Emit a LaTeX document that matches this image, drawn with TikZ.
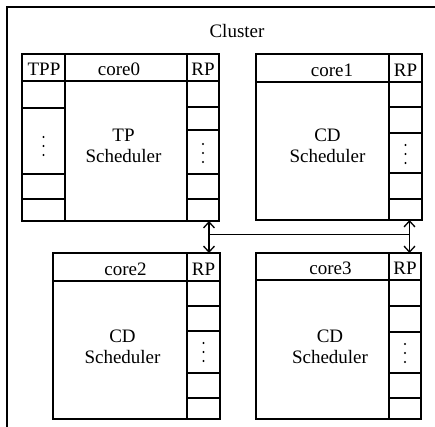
\documentclass[tikz,border=0pt]{standalone}
\usepackage{fontspec}
\setmainfont{Liberation Serif}
\usetikzlibrary{arrows.meta}
\begin{document}
\begin{tikzpicture}[x=1pt,y=-1pt,line width=1.3pt,
  cell/.style={draw,inner sep=0pt,outer sep=0pt,anchor=north west},
  lbl/.style={inner sep=0pt,anchor=base,font=\fontsize{19}{21}\selectfont},
  body/.style={inner sep=0pt,align=center,font=\fontsize{19}{21}\selectfont},
  link/.style={{Straight Barb[length=6pt,width=11pt]}-{Straight Barb[length=6pt,width=11pt]}},
  % three stacked dots for the elided queue slots
  pics/slotdots/.style={code={
    \fill (0,-9) circle (1.15pt); \fill (0,0) circle (1.15pt); \fill (0,9) circle (1.15pt);}}]
\useasboundingbox (0,0) rectangle (435,426);
\clip (0,0) rectangle (435,426);

% cluster frame (runs past the right and bottom edges)
\node[cell,minimum width=470pt,minimum height=470pt] (cluster) at (7,7) {};
\node[lbl] (clusterlbl) at (237,37) {Cluster};

% ---------- core0 : TP scheduler ----------
\node[cell,minimum width=197pt,minimum height=167pt] (core0) at (22,54) {};
\node[cell,minimum width=197pt,minimum height=27pt] (core0h) at (22,54) {};
\node[cell,minimum width=43pt,minimum height=167pt] (tpp0) at (22,54) {};
\node[cell,minimum width=32pt,minimum height=167pt] (rp0) at (187,54) {};
\foreach \y in {108,174,199} \draw (tpp0.west |- 0,\y) -- (tpp0.east |- 0,\y);
\foreach \y in {107,130,174,199} \draw (rp0.west |- 0,\y) -- (rp0.east |- 0,\y);
\node[lbl] (tpp0l) at (44,75.5) {TPP};
\node[lbl] (core0l) at (119,75.5) {core0};
\node[lbl] (rp0l) at (203,75.5) {RP};
\node[body] (sched0) at (123.5,146) {TP\\Scheduler};
\pic at (43.5,146) {slotdots};
\pic at (203,153) {slotdots};

% ---------- core1 : CD scheduler ----------
\node[cell,minimum width=166pt,minimum height=166pt] (core1) at (256,54) {};
\node[cell,minimum width=166pt,minimum height=28pt] (core1h) at (256,54) {};
\node[cell,minimum width=33pt,minimum height=166pt] (rp1) at (389,54) {};
\foreach \y in {107,133,173,199} \draw (rp1.west |- 0,\y) -- (rp1.east |- 0,\y);
\node[lbl] (core1l) at (332,76) {core1};
\node[lbl] (rp1l) at (405.5,76) {RP};
\node[body] (sched1) at (327.5,146) {CD\\Scheduler};
\pic at (405.5,154) {slotdots};

% ---------- core2 : CD scheduler ----------
\node[cell,minimum width=167pt,minimum height=166pt] (core2) at (53,253) {};
\node[cell,minimum width=167pt,minimum height=28pt] (core2h) at (53,253) {};
\node[cell,minimum width=33pt,minimum height=166pt] (rp2) at (187,253) {};
\foreach \y in {306,331,373,398} \draw (rp2.west |- 0,\y) -- (rp2.east |- 0,\y);
\node[lbl] (core2l) at (125.5,275) {core2};
\node[lbl] (rp2l) at (203.5,275) {RP};
\node[body] (sched2) at (122.5,347) {CD\\Scheduler};
\pic at (203.5,352) {slotdots};

% ---------- core3 : CD scheduler ----------
\node[cell,minimum width=165pt,minimum height=166pt] (core3) at (256,253) {};
\node[cell,minimum width=165pt,minimum height=27pt] (core3h) at (256,253) {};
\node[cell,minimum width=32pt,minimum height=166pt] (rp3) at (389,253) {};
\foreach \y in {306,332,373,398} \draw (rp3.west |- 0,\y) -- (rp3.east |- 0,\y);
\node[lbl] (core3l) at (330.5,274) {core3};
\node[lbl] (rp3l) at (405,274) {RP};
\node[body] (sched3) at (330,347) {CD\\Scheduler};
\pic at (405,353) {slotdots};

% ---------- RP interconnect ----------
\coordinate (up0) at ([xshift=6pt]rp0.south);
\coordinate (up1) at ([xshift=4pt]rp1.south);
\draw[link] (up0) -- (up0 |- rp2.north);
\draw[link] (up1) -- (up1 |- rp3.north);
\coordinate (bus0) at ([yshift=-13.5pt]up0);
\draw (bus0) -- (bus0 -| up1);
\end{tikzpicture}
\end{document}
